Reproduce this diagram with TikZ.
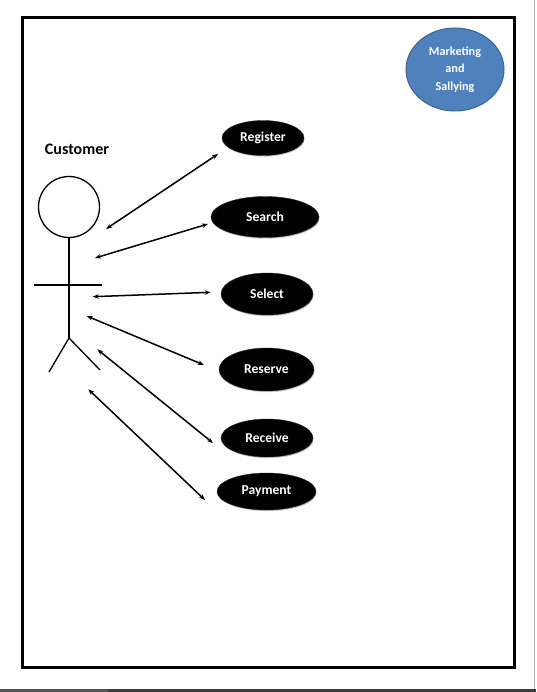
\documentclass[tikz,border=0pt]{standalone}
\usepackage{fontspec}
\setmainfont{Carlito}
\usetikzlibrary{arrows.meta,shapes.geometric,shadows}
\definecolor{mkblue}{HTML}{4F81BD}
\definecolor{mkedge}{HTML}{3A6595}
\definecolor{strip}{HTML}{3C3C3C}
\definecolor{stripl}{HTML}{555555}
\tikzset{
  uc/.style={ellipse, fill=black, draw=black!85, inner sep=0pt,
    minimum width=2*#1, text=white, font=\bfseries\fontsize{13.6}{16}\selectfont,
    drop shadow={shadow xshift=0.6pt, shadow yshift=-1.2pt, opacity=0.35, fill=black!60}},
  link/.style={line width=1.5pt, {Stealth[length=6pt,width=4.5pt]}-{Stealth[length=6pt,width=4.5pt]}},
  stick/.style={line width=1.3pt, black}
}
\begin{document}
\begin{tikzpicture}[x=1pt,y=-1pt]
\useasboundingbox (0,0) rectangle (536,692);
\fill[white] (0,0) rectangle (536,692);
% window artefacts
\fill[strip] (0,689) rectangle (536,692);
\fill[stripl] (0,689) rectangle (108,692);
\draw[black!30, line width=0.8pt] (534.3,0) -- (534.3,689);
% frame
\draw[line width=3pt] (22.5,17.5) rectangle (514.5,667.5);
% marketing
\node[ellipse, fill=mkblue, draw=mkedge, line width=1pt, minimum width=98pt, minimum height=83pt,
  text=white, font=\bfseries\fontsize{12.2}{17.5}\selectfont, align=center, inner sep=0pt]
  (mk) at (455,69.5) {Marketing\\and\\Sallying};
% actor
\node[font=\bfseries\fontsize{16}{18}\selectfont] (cust) at (77,149) {Customer};
\node[circle, draw, line width=1.3pt, minimum size=61pt, inner sep=0pt] (head) at (69,207) {};
\coordinate (hip) at (69,338);
\coordinate (armL) at (34,285);
\coordinate (armR) at (101.7,285);
\coordinate (legL) at (49,372);
\coordinate (legR) at (100,370);
\draw[stick] (head.south) -- (hip);
\draw[stick] (armL) -- (armR);
\draw[stick] (legL) -- (hip) -- (legR);
% use cases
\node[uc=41pt, minimum height=35pt] (reg) at (263,138) {Register};
\node[uc=54pt, minimum height=41pt] (sea) at (265,217) {Search};
\node[uc=46pt, minimum height=42pt] (sel) at (267,294) {Select};
\node[uc=47.5pt, minimum height=43pt] (res) at (266.5,369.5) {Reserve};
\node[uc=46pt, minimum height=38pt] (rec) at (267,438) {Receive};
\node[uc=49.5pt, minimum height=37pt] (pay) at (266.5,491.5) {Payment};
% arrow ends
\coordinate (a1) at (106,229);  \coordinate (b1) at (218,154);
\coordinate (a2) at (95,258);   \coordinate (b2) at (208,224);
\coordinate (a3) at (92.7,296.7); \coordinate (b3) at (210.7,292.3);
\coordinate (a4) at (86.7,316); \coordinate (b4) at (204,365);
\coordinate (a5) at (97.3,349.3); \coordinate (b5) at (213,443);
\coordinate (a6) at (88.3,389.3); \coordinate (b6) at (205,500);
\draw[link] (a1) -- (b1);
\draw[link] (a2) -- (b2);
\draw[link] (a3) -- (b3);
\draw[link] (a4) -- (b4);
\draw[link] (a5) -- (b5);
\draw[link] (a6) -- (b6);
\end{tikzpicture}
\end{document}
